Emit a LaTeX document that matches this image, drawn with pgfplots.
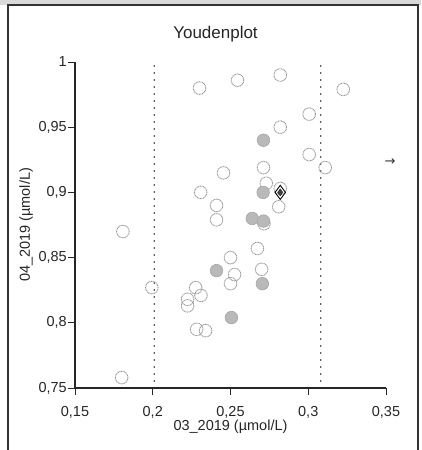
\documentclass[border=0pt]{standalone}
\usepackage{pgfplots}
\pgfplotsset{compat=1.18}
\usepackage{fontspec}
\setmainfont{Liberation Sans}
\newfontfamily\symfont{DejaVu Sans}

\begin{document}
\begin{tikzpicture}[x=1pt,y=1pt]
\path[use as bounding box] (0,0) rectangle (421,450);
\fill[gray!30] (0,445) rectangle (421,450);
\draw[black!80, line width=1.4pt] (8,0) -- (8,445) -- (418,445) -- (418,0);
\begin{axis}[
  at={(75pt,62pt)}, anchor=south west,
  scale only axis, width=311pt, height=326pt,
  xmin=0.15, xmax=0.35, ymin=0.75, ymax=1,
  axis lines=left,
  axis line style={-, line width=1.2pt, black!85},
  xtick={0.15,0.2,0.25,0.3,0.35},
  ytick={0.75,0.8,0.85,0.9,0.95,1},
  tick align=outside, major tick length=7pt,
  tick style={black!85, line width=0.9pt},
  tick label style={font=\fontsize{14.5}{16}\selectfont, text=black!85},
  xticklabel style={anchor=base, yshift=-21pt},
  yticklabel style={inner sep=1pt},
  /pgf/number format/use comma,
  /pgf/number format/assume math mode=true,
  xlabel={03\_2019 (µmol/L)},
  ylabel={04\_2019 (µmol/L)},
  label style={font=\fontsize{14.5}{16}\selectfont, text=black!85},
  xlabel style={at={(axis description cs:0.5,0)}, anchor=base, yshift=-42pt},
  ylabel style={at={(axis description cs:-0.145,0.5)}, anchor=base},
  title={Youdenplot},
  title style={font=\fontsize{17}{18}\selectfont, text=black!85,
    at={(axis description cs:0.5,1)}, anchor=base, yshift=17pt, xshift=-15pt},
  clip=false,
]

% Grenzen (gepunktet)
\addplot[black!85, line width=1.7pt, line cap=round, dash pattern=on 0pt off 7pt]
  coordinates {(0.201,0.75) (0.201,1)};
\addplot[black!85, line width=1.7pt, line cap=round, dash pattern=on 0pt off 7pt]
  coordinates {(0.308,0.75) (0.308,1)};

% offene Punkte
\addplot[only marks, mark=o, mark size=6.3pt,
  mark options={draw=gray!80, line width=0.9pt, dash pattern=on 1pt off 0.6pt}]
  coordinates {
  (0.2301,0.980) (0.2545,0.986) (0.282,0.990) (0.3225,0.979)
  (0.3006,0.960) (0.282,0.950) (0.3006,0.929) (0.3109,0.919)
  (0.2712,0.919) (0.2455,0.915) (0.2308,0.900) (0.273,0.907)
  (0.281,0.889) (0.241,0.890) (0.241,0.879) (0.1808,0.870)
  (0.2673,0.857) (0.25,0.850) (0.270,0.841) (0.2526,0.837)
  (0.25,0.830) (0.1994,0.827) (0.2276,0.827) (0.231,0.821)
  (0.2224,0.818) (0.2224,0.813) (0.2282,0.795) (0.234,0.794)
  (0.180,0.758) (0.282,0.903) (0.2715,0.876)
  };

% gefuellte Punkte
\addplot[only marks, mark=*, mark size=6.3pt,
  mark options={draw=gray!70, fill=gray!55, line width=0.6pt}]
  coordinates {
  (0.2712,0.940) (0.271,0.900) (0.264,0.880) (0.2712,0.878)
  (0.241,0.840) (0.2705,0.830) (0.2506,0.804)
  };

% Sollwert
\addplot[only marks, mark=diamond, mark size=7pt,
  mark options={draw=black, fill=white, line width=0.9pt}]
  coordinates {(0.282,0.900)};
\addplot[only marks, mark=diamond*, mark size=3.5pt,
  mark options={draw=black!80, fill=black!75}]
  coordinates {(0.282,0.900)};

\node[font=\symfont\fontsize{13}{13}\selectfont, text=black!80]
  at (axis cs:0.3526,0.923) {→};
\end{axis}
\end{tikzpicture}
\end{document}
